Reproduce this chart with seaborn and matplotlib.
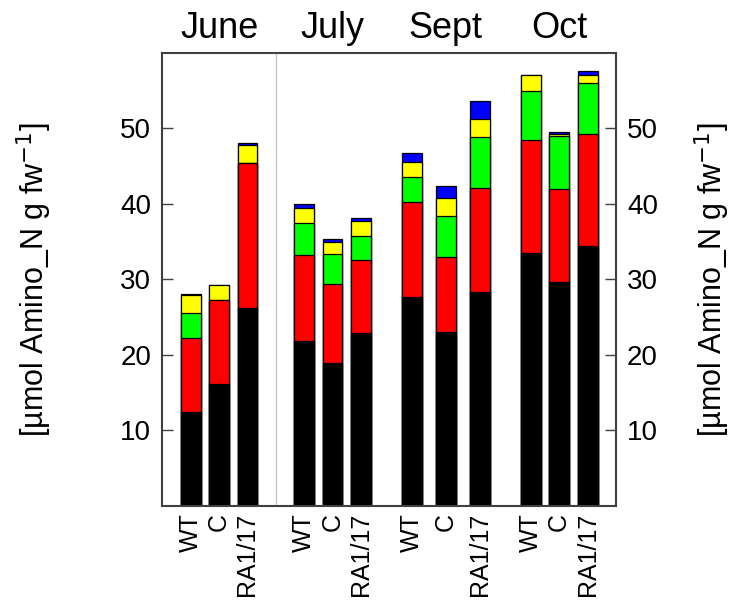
import numpy as np
import pandas as pd
import matplotlib
matplotlib.use('Agg')
import matplotlib.pyplot as plt
import seaborn as sns

# dados
meses = ['June', 'July', 'Sept', 'Oct']
genotipos = ['WT', 'C', 'RA1/17'] * 4
posicoes = [1, 2, 3, 5, 6, 7, 8.8, 10, 11.2, 13, 14, 15]

preto = [12.5, 16.2, 26.2, 21.8, 18.9, 22.9, 27.6, 23.0, 28.3, 33.5, 29.6, 34.4]
vermelho = [9.75, 11.05, 19.2, 11.4, 10.5, 9.6, 12.7, 10.0, 13.8, 14.9, 12.3, 14.9]
verde = [3.35, 0.0, 0.0, 4.2, 3.9, 3.3, 3.3, 5.4, 6.8, 6.5, 7.1, 6.7]
amarelo = [2.3, 2.05, 2.4, 2.0, 1.7, 1.9, 2.0, 2.4, 2.3, 2.1, 0.2, 1.1]
azul = [0.1, 0.0, 0.2, 0.6, 0.3, 0.4, 1.1, 1.6, 2.4, 0.1, 0.3, 0.5]

camadas = [preto, vermelho, verde, amarelo, azul]
cores = ['black', 'red', '#00ff00', 'yellow', 'blue']
rotulo_y = '[µmol Amino_N g fw$^{-1}$]'

sns.set_style('white')
plt.rcParams['font.family'] = ['Liberation Sans', 'DejaVu Sans']
plt.rcParams['text.color'] = 'black'
plt.rcParams['axes.labelcolor'] = 'black'
plt.rcParams['xtick.color'] = 'black'
plt.rcParams['ytick.color'] = 'black'

fig = plt.figure(figsize=(7.35, 6.06), dpi=100)
ax = fig.add_axes([0.221, 0.165, 0.617, 0.748])

acumulado = np.cumsum(np.array(camadas), axis=0)
df = pd.DataFrame({'pos': posicoes})

# desenhar do topo para a base, sobrepondo
for i in range(len(camadas) - 1, -1, -1):
    df['valor'] = acumulado[i]
    sns.barplot(data=df, x='pos', y='valor', native_scale=True, width=0.7,
                color=cores[i], saturation=1, errorbar=None,
                edgecolor='black', linewidth=0.9, ax=ax)

ax.axvline(4, color='#c8c8c8', lw=1, zorder=0)

ax.set_xlim(0, 16)
ax.set_ylim(0, 60)
ax.set_yticks([10, 20, 30, 40, 50])
ax.set_xticks(posicoes)
ax.set_xticklabels(genotipos, rotation=90, fontsize=18)
ax.tick_params(axis='y', labelsize=20, direction='in', length=8, width=1,
               right=True, labelright=True, left=True, color='#404040', pad=8)
ax.tick_params(axis='x', direction='in', length=3, width=0.8, bottom=True,
               color='#808080', pad=5)
for s in ax.spines.values():
    s.set_color('#404040')
    s.set_linewidth(1.5)

ax.set_xlabel('')
ax.set_ylabel('')
fig.text(0.046, 0.539, rotulo_y, fontsize=22, rotation=90, ha='center', va='center')
fig.text(0.969, 0.539, rotulo_y, fontsize=22, rotation=90, ha='center', va='center')

centros = [2, 6, 10, 14]
for c, m in zip(centros, meses):
    ax.text(c, 1.015, m, transform=ax.get_xaxis_transform(), ha='center',
            va='bottom', fontsize=26)

fig.savefig('out.png', dpi=100)
